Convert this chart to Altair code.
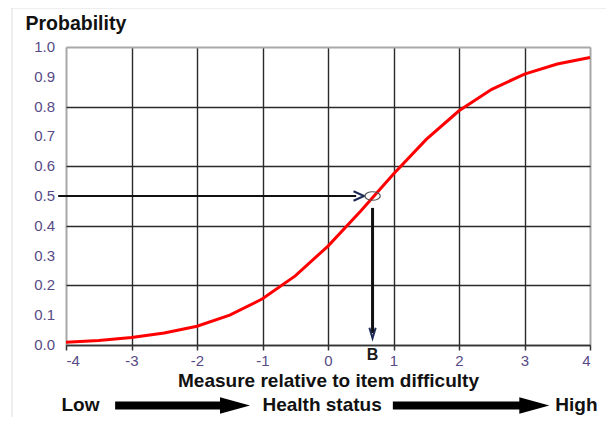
import altair as alt
import pandas as pd

# ---- data ----
x_vals = [-4, -3.5, -3, -2.5, -2, -1.5, -1, -0.5, 0, 0.5, 1, 1.5, 2, 2.5, 3, 3.5, 4]
p_vals = [0.009, 0.015, 0.025, 0.040, 0.063, 0.100, 0.155, 0.232, 0.332, 0.450,
          0.574, 0.690, 0.786, 0.858, 0.909, 0.943, 0.965]

x_ticks = [-4, -3, -2, -1, 0, 1, 2, 3, 4]
y_ticks = [0.0, 0.1, 0.2, 0.3, 0.4, 0.5, 0.6, 0.7, 0.8, 0.9, 1.0]
y_tick_labels = ["0.0", "0.1", "0.2", "0.3", "0.4", "0.5", "0.6", "0.7", "0.8",
                 "0.9", "1.0"]

# point B (measure where probability = 0.5)
b_x = [0.68]
b_y = [0.5]
b_label = ["B"]

# guide arrows (data units)
h_arrow_x = [-4.12]
h_arrow_x2 = [0.43]
h_head_x = [0.47]
v_arrow_y = [0.46]
v_arrow_y2 = [0.04]
v_head_y = [0.04]

# bottom row: Low -> Health status -> High
row_y = [-0.203]
row_texts = ["Low", "Health status", "High"]
row_text_x = [-4.07, -0.09, 3.47]
row_text_align = ["left", "center", "left"]
row_shaft_x = [-3.25, 0.99]
row_shaft_x2 = [-1.60, 2.95]
row_head_x = [-1.42, 3.15]

FONT = "Liberation Sans"
LABEL_COLOR = "#574a86"

xs = alt.Scale(domain=[-4, 4], nice=False, zero=False)
ys = alt.Scale(domain=[0, 1], nice=False, zero=False)

curve_df = pd.DataFrame({"x": x_vals, "y": p_vals})

x_axis = alt.Axis(
    values=x_ticks, labelExpr="'' + datum.value", labelOverlap=False,
    title="Measure relative to item difficulty",
    grid=True,
    gridColor=alt.condition("datum.value == 4 || datum.value == -4",
                            alt.value("#a8a8a8"), alt.value("#2a2a2a")),
    gridWidth=alt.condition("datum.value == 4 || datum.value == -4",
                            alt.value(2), alt.value(1.4)),
    domainColor="#333333", domainWidth=1.5,
    ticks=True, tickColor="#333333", tickSize=5, tickWidth=1.5,
    labelFontSize=15, labelColor=LABEL_COLOR, labelPadding=3, labelFont=FONT,
    titleFontSize=19, titleFontWeight="bold", titleColor="#111111",
    titlePadding=3, titleFont=FONT,
)
y_axis = alt.Axis(
    values=y_ticks, labels=False, title="Probability",
    grid=True,
    gridColor=alt.condition("datum.value == 1",
                            alt.value("#a8a8a8"), alt.value("#2a2a2a")),
    gridWidth=alt.condition("datum.value == 1", alt.value(2), alt.value(1.4)),
    domain=False, ticks=False,
    titleFontSize=19.5, titleFontWeight="bold", titleColor="#111111",
    titleAngle=0, titleAlign="left", titleBaseline="alphabetic",
    titleX=-41, titleY=-18, titleFont=FONT,
)

curve = alt.Chart(curve_df).mark_line(color="#ff0000", strokeWidth=3).encode(
    x=alt.X("x:Q", scale=xs, axis=x_axis),
    y=alt.Y("y:Q", scale=ys, axis=y_axis),
)

# y tick labels
ylab_df = pd.DataFrame({"x": [-4] * len(y_ticks), "y": y_ticks, "t": y_tick_labels})
y_labels = alt.Chart(ylab_df).mark_text(
    font=FONT, fontSize=15, color=LABEL_COLOR, align="right",
    baseline="middle", dx=-11,
).encode(x=alt.X("x:Q", scale=xs), y=alt.Y("y:Q", scale=ys), text="t:N")

# horizontal arrow to B
h_df = pd.DataFrame({"x": h_arrow_x, "x2": h_arrow_x2, "y": b_y})
h_shaft = alt.Chart(h_df).mark_rule(color="#111111", strokeWidth=2).encode(
    x=alt.X("x:Q", scale=xs), x2="x2:Q", y=alt.Y("y:Q", scale=ys))
h_head_df = pd.DataFrame({"x": h_head_x, "y": b_y})
h_head = alt.Chart(h_head_df).mark_point(
    shape="M -1 -0.9 L 1 0 L -1 0.9", filled=False, stroke="#1c2a55",
    strokeWidth=2, size=110, opacity=1,
).encode(x=alt.X("x:Q", scale=xs), y=alt.Y("y:Q", scale=ys))

# ellipse at B
ell_df = pd.DataFrame({"x": b_x, "y": b_y})
ellipse = alt.Chart(ell_df).mark_point(
    shape="M -1 0 A 1 0.55 0 1 1 1 0 A 1 0.55 0 1 1 -1 0",
    filled=False, stroke="#555555", strokeWidth=1.2, size=240, opacity=1,
).encode(x=alt.X("x:Q", scale=xs), y=alt.Y("y:Q", scale=ys))

# vertical arrow down to the axis
v_df = pd.DataFrame({"x": b_x, "y": v_arrow_y, "y2": v_arrow_y2})
v_shaft = alt.Chart(v_df).mark_rule(color="#111111", strokeWidth=3).encode(
    x=alt.X("x:Q", scale=xs), y=alt.Y("y:Q", scale=ys), y2="y2:Q")
v_head_df = pd.DataFrame({"x": b_x, "y": v_head_y})
v_head = alt.Chart(v_head_df).mark_point(
    shape="M -0.6 -1 L 0 1 L 0.6 -1", filled=False, stroke="#1c2a55",
    strokeWidth=2, size=110, opacity=1,
).encode(x=alt.X("x:Q", scale=xs), y=alt.Y("y:Q", scale=ys))

b_df = pd.DataFrame({"x": b_x, "y": [0.0], "t": b_label})
b_text = alt.Chart(b_df).mark_text(
    font=FONT, fontSize=16, fontWeight="bold", color="#1a1a1a",
    baseline="top", dy=2,
).encode(x=alt.X("x:Q", scale=xs), y=alt.Y("y:Q", scale=ys), text="t:N")

# bottom row
row_text_layers = []
for xv, tv, av in zip(row_text_x, row_texts, row_text_align):
    d = pd.DataFrame({"x": [xv], "y": row_y, "t": [tv]})
    row_text_layers.append(
        alt.Chart(d).mark_text(font=FONT, fontSize=19, fontWeight="bold",
                               color="#111111", align=av, baseline="middle")
        .encode(x=alt.X("x:Q", scale=xs), y=alt.Y("y:Q", scale=ys), text="t:N"))

shaft_df = pd.DataFrame({"x": row_shaft_x, "x2": row_shaft_x2,
                         "y": row_y * len(row_shaft_x)})
row_shafts = alt.Chart(shaft_df).mark_rule(color="#000000", strokeWidth=8).encode(
    x=alt.X("x:Q", scale=xs), x2="x2:Q", y=alt.Y("y:Q", scale=ys))
head_df = pd.DataFrame({"x": row_head_x, "y": row_y * len(row_head_x)})
row_heads = alt.Chart(head_df).mark_point(
    shape="M -1 -0.55 L 1 0 L -1 0.55 Z", filled=True, color="#000000",
    size=900, opacity=1, strokeWidth=0,
).encode(x=alt.X("x:Q", scale=xs), y=alt.Y("y:Q", scale=ys))

# faint outer frame of the picture
dummy = pd.DataFrame({"d": [0]})
frame_top = alt.Chart(dummy).mark_rule(color="#dddddd", strokeWidth=1).encode(
    x=alt.value(-54), x2=alt.value(560), y=alt.value(-39))
frame_left = alt.Chart(dummy).mark_rule(color="#dddddd", strokeWidth=1).encode(
    x=alt.value(-54), y=alt.value(-39), y2=alt.value(380))

chart = alt.layer(
    frame_top, frame_left, curve, y_labels, h_shaft, h_head, ellipse, v_shaft,
    v_head, b_text, row_shafts, row_heads, *row_text_layers,
).properties(
    width=524, height=298,
    autosize=alt.AutoSizeParams(type="none"),
    padding={"left": 58, "top": 39, "right": 16, "bottom": 72},
).configure_view(stroke=None).configure(font=FONT, background="white")

chart.save("out.html", embed_options={"renderer": "svg", "actions": False})
